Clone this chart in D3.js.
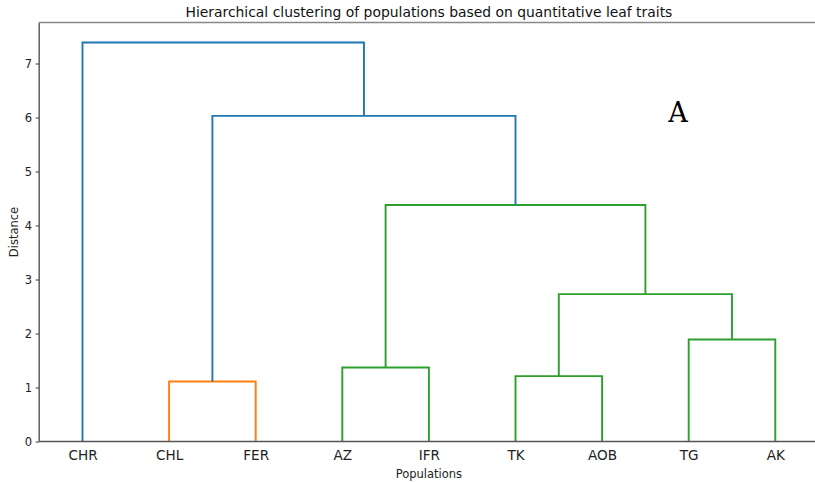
<!DOCTYPE html>
<html>
<head>
<meta charset="utf-8">
<script src="https://cdn.jsdelivr.net/npm/d3@7"></script>
<style>
  html, body { margin: 0; padding: 0; background: #fff; }
  svg { display: block; font-family: "DejaVu Sans", sans-serif; }
</style>
</head>
<body>
<svg id="chart" width="815" height="482"></svg>
<script>
// Leaf populations, in dendrogram order
const leaves = ["CHR", "CHL", "FER", "AZ", "IFR", "TK", "AOB", "TG", "AK"];

// Agglomeration steps: [left child, right child, merge distance]
// Children are leaf names or indices of earlier steps
const mergeLeft  = ["CHL", "AZ", "TK", "TG", 2, 1, 0, "CHR"];
const mergeRight = ["FER", "IFR", "AOB", "AK", 3, 4, 5, 6];
const mergeDist  = [1.11, 1.37, 1.21, 1.89, 2.73, 4.38, 6.03, 7.39];

// Cluster colour of each step's link
const mergeCluster = ["C1", "C2", "C2", "C2", "C2", "C2", "C0", "C0"];
const clusterColor = { C0: "#1f77b4", C1: "#ff7f0e", C2: "#2ca02c" };

const yTicks = [0, 1, 2, 3, 4, 5, 6, 7];

const svg = d3.select("#chart");
const margin = { left: 39.2, top: 22.5 };
const W = 815, plotRight = 818.6, plotBottom = 441.5;

// dendrogram coordinates: leaf i sits at 10*i + 5
const x = d3.scaleLinear().domain([0, leaves.length * 10]).range([margin.left, plotRight]);
const yMax = d3.max(mergeDist) * 1.05;
const y = d3.scaleLinear().domain([0, yMax]).range([plotBottom, margin.top]);

// node positions
const pos = {};
leaves.forEach((l, i) => { pos[l] = { x: i * 10 + 5, h: 0 }; });
const nodeOf = c => (typeof c === "number") ? pos["#" + c] : pos[c];
mergeDist.forEach((d, i) => {
  const a = nodeOf(mergeLeft[i]), b = nodeOf(mergeRight[i]);
  pos["#" + i] = { x: (a.x + b.x) / 2, h: d };
});

// links
const links = svg.append("g").attr("fill", "none").attr("stroke-width", 1.9);
mergeDist.forEach((d, i) => {
  const a = nodeOf(mergeLeft[i]), b = nodeOf(mergeRight[i]);
  const p = d3.path();
  p.moveTo(x(a.x), y(a.h));
  p.lineTo(x(a.x), y(d));
  p.lineTo(x(b.x), y(d));
  p.lineTo(x(b.x), y(b.h));
  links.append("path")
    .attr("d", p.toString())
    .attr("stroke", clusterColor[mergeCluster[i]]);
});

// y axis
const yAxis = svg.append("g")
  .attr("transform", `translate(${margin.left},0)`)
  .call(d3.axisLeft(y).tickValues(yTicks).tickSize(3.5).tickPadding(3.5).tickFormat(d3.format("d")));
yAxis.select(".domain").remove();
yAxis.selectAll(".tick line").attr("stroke", "#333");
yAxis.selectAll(".tick text").attr("font-size", 11.5).attr("fill", "#222").attr("font-family", "DejaVu Sans, sans-serif");

// x axis (leaf labels, no tick marks)
const xAxis = svg.append("g")
  .attr("transform", `translate(0,${plotBottom})`)
  .call(d3.axisBottom(x).tickValues(leaves.map((l, i) => i * 10 + 5)).tickSize(0).tickPadding(9)
    .tickFormat((d, i) => leaves[i]));
xAxis.select(".domain").remove();
xAxis.selectAll(".tick text").attr("font-size", 13.6).attr("fill", "#222").attr("font-family", "DejaVu Sans, sans-serif");

// spines
svg.append("line").attr("x1", margin.left).attr("x2", margin.left).attr("y1", margin.top).attr("y2", plotBottom)
  .attr("stroke", "#555").attr("stroke-width", 1.4);
svg.append("line").attr("x1", margin.left).attr("x2", W).attr("y1", plotBottom).attr("y2", plotBottom)
  .attr("stroke", "#555").attr("stroke-width", 1.4);
svg.append("line").attr("x1", margin.left).attr("x2", W).attr("y1", margin.top).attr("y2", margin.top)
  .attr("stroke", "#888").attr("stroke-width", 1.4);

// title and axis labels
const cx = (margin.left + plotRight) / 2;
svg.append("text").attr("x", cx).attr("y", 16.5).attr("text-anchor", "middle")
  .attr("font-size", 13.9).attr("fill", "#111")
  .text("Hierarchical clustering of populations based on quantitative leaf traits");
svg.append("text").attr("x", cx).attr("y", 477.5).attr("text-anchor", "middle")
  .attr("font-size", 11.5).attr("fill", "#222").text("Populations");
svg.append("text").attr("transform", `translate(18,${(margin.top + plotBottom) / 2}) rotate(-90)`)
  .attr("text-anchor", "middle").attr("font-size", 11.5).attr("fill", "#222").text("Distance");

// panel letter
svg.append("text").attr("x", 678).attr("y", 122).attr("text-anchor", "middle")
  .attr("font-family", "DejaVu Serif, serif").attr("font-size", 27).attr("fill", "#000").text("A");
</script>
</body>
</html>
